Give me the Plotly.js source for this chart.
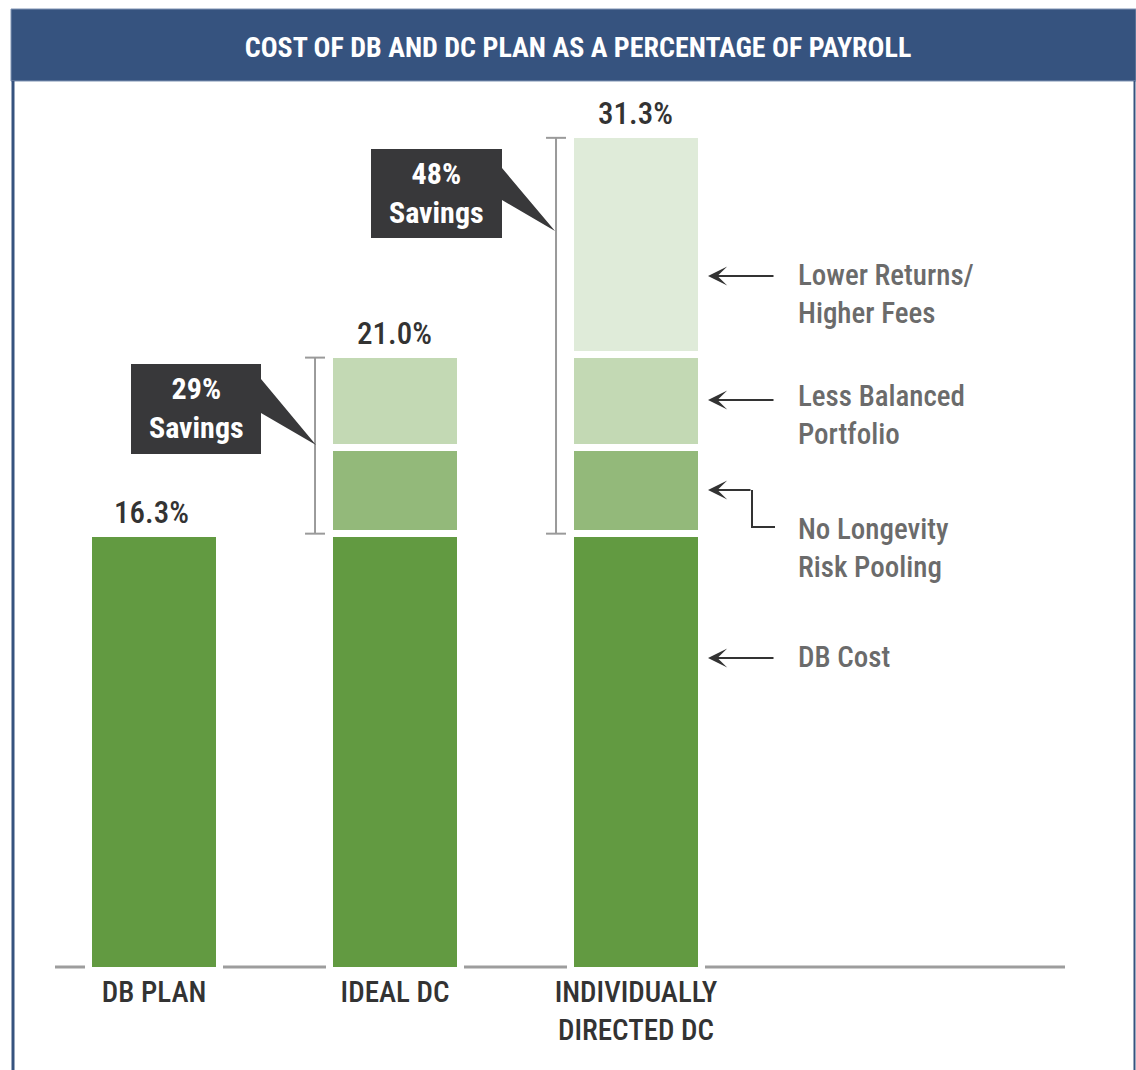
<!DOCTYPE html>
<html>
<head>
<meta charset="utf-8">
<script src="https://cdn.plot.ly/plotly-3.0.1.min.js"></script>
<style>
html,body{margin:0;padding:0;background:#fff;}
#chart{width:1136px;height:1070px;}
svg text{font-stretch:condensed;}
</style>
</head>
<body>
<div id="chart"></div>
<script>
// ---- data ----
const categories = ['DB PLAN', 'IDEAL DC', 'INDIVIDUALLY<br>DIRECTED DC'];
const dbCost = [16.3, 16.3, 16.3];
const longevityPooling = [null, 3.2, 3.2];
const balancedPortfolio = [null, 3.5, 3.5];
const lowerReturnsFees = [null, null, 8.2];
const totalLabels = ['16.3%', '21.0%', '31.3%'];
const savingsLabels = [null, '29%', '48%'];
const segmentNames = ['DB Cost', 'No Longevity<br>Risk Pooling', 'Less Balanced<br>Portfolio', 'Lower Returns/<br>Higher Fees'];
const segmentColors = ['#629a41', '#93b97a', '#c3d9b4', '#dfebd9'];
const titleText = 'COST OF DB AND DC PLAN AS A PERCENTAGE OF PAYROLL';

// ---- geometry helpers (plot area in page pixels) ----
const W = 1136, H = 1070;
const L = 55, R = 1065, T = 100, B = 972;
const PXU = 26.8;             // pixels per percentage point
const ZERO = 970.5;           // pixel row of value 0
const STROKE = 7;             // white separator width
const xp = px => (px - L) / (R - L);
const yp = py => (B - py) / (B - T);

const FONT = 'Roboto, "DejaVu Sans Condensed", sans-serif';
const series = [dbCost, longevityPooling, balancedPortfolio, lowerReturnsFees];

const traces = series.map((vals, k) => ({
  type: 'bar',
  x: categories,
  y: vals,
  name: segmentNames[k],
  width: 0.544,
  marker: {color: segmentColors[k], line: {color: '#ffffff', width: STROKE}},
  hoverinfo: 'skip'
}));

const totals = categories.map((c, i) => series.reduce((s, arr) => s + (arr[i] || 0), 0));

const shapes = [];
const annotations = [];

// header band & frame
shapes.push({type: 'rect', xref: 'paper', yref: 'paper', x0: xp(11), x1: xp(1136), y0: yp(81), y1: yp(9),
  fillcolor: '#36537f', line: {color: '#7f93b3', width: 1}, layer: 'above'});
shapes.push({type: 'line', xref: 'paper', yref: 'paper', x0: xp(13), x1: xp(13), y0: yp(1072), y1: yp(81),
  line: {color: '#36537f', width: 3}});
shapes.push({type: 'line', xref: 'paper', yref: 'paper', x0: xp(1134.5), x1: xp(1134.5), y0: yp(1072), y1: yp(81),
  line: {color: '#36537f', width: 2}});

// baseline (drawn beneath the bars; their white outline cuts it)
shapes.push({type: 'line', xref: 'paper', yref: 'paper', x0: 0, x1: 1, y0: yp(967), y1: yp(967),
  line: {color: '#9d9d9d', width: 3}, layer: 'below'});

// total labels
categories.forEach((c, i) => {
  annotations.push({x: c, y: totals[i], xref: 'x', yref: 'y', text: totalLabels[i], showarrow: false,
    yanchor: 'middle', yshift: 21, xshift: i === 0 ? -3 : -1,
    font: {family: FONT, size: 31, color: '#333333', weight: 500}});
});

// savings brackets & callouts
const calloutBoxes = {1: {x0: 131, x1: 261, y0: 364, y1: 454, p1: 379, p2: 413, tx: 316, ty: 445},
                      2: {x0: 371, x1: 502, y0: 149, y1: 238, p1: 168, p2: 200, tx: 555, ty: 231}};
const off = (STROKE / 2) / PXU;
categories.forEach((c, i) => {
  if (!savingsLabels[i]) return;
  const bx = i - 0.332, tk = 0.0415;
  const line = {color: '#9a9a9a', width: 2};
  const top = totals[i] - off;
  shapes.push({type: 'line', xref: 'x', yref: 'y', x0: bx, x1: bx, y0: dbCost[i], y1: top, line, layer: 'above'});
  shapes.push({type: 'line', xref: 'x', yref: 'y', x0: bx - tk, x1: bx + tk, y0: dbCost[i], y1: dbCost[i], line, layer: 'above'});
  shapes.push({type: 'line', xref: 'x', yref: 'y', x0: bx - tk, x1: bx + tk, y0: top, y1: top, line, layer: 'above'});
  const b = calloutBoxes[i];
  const path = `M ${xp(b.x0)} ${yp(b.y0)} L ${xp(b.x1)} ${yp(b.y0)} L ${xp(b.x1)} ${yp(b.p1)} L ${xp(b.tx)} ${yp(b.ty)} L ${xp(b.x1)} ${yp(b.p2)} L ${xp(b.x1)} ${yp(b.y1)} L ${xp(b.x0)} ${yp(b.y1)} Z`;
  shapes.push({type: 'path', xref: 'paper', yref: 'paper', path, fillcolor: '#38383a', line: {width: 0}, layer: 'above'});
  annotations.push({xref: 'paper', yref: 'paper', x: xp((b.x0 + b.x1) / 2), y: yp((b.y0 + b.y1) / 2 - 1),
    text: savingsLabels[i] + '<br>Savings', showarrow: false, xanchor: 'center', yanchor: 'middle',
    font: {family: FONT, size: 30, color: '#ffffff', weight: 'bold'}});
});

// right-hand segment legend with arrows
const legendRows = [
  {name: segmentNames[3], arrowY: 276, textY: 293.5},
  {name: segmentNames[2], arrowY: 400, textY: 415.5},
  {name: segmentNames[1], arrowY: 490, textY: 547.5, elbow: true},
  {name: segmentNames[0], arrowY: 658, textY: 657}
];
legendRows.forEach(r => {
  annotations.push({xref: 'paper', yref: 'paper', x: xp(796), y: yp(r.textY), text: r.name, showarrow: false,
    xanchor: 'left', yanchor: 'middle', align: 'left',
    font: {family: FONT, size: 29, color: '#6b6b6b', weight: 500}});
  const tailX = r.elbow ? 752 : 775;
  annotations.push({xref: 'paper', yref: 'paper', x: xp(708), y: yp(r.arrowY), ax: tailX - 708, ay: 0,
    axref: 'pixel', ayref: 'pixel', text: '', showarrow: true, arrowhead: 3, arrowsize: 1.6, arrowwidth: 2,
    arrowcolor: '#333333', standoff: 0});
  if (r.elbow) {
    shapes.push({type: 'path', xref: 'paper', yref: 'paper',
      path: `M ${xp(752)} ${yp(r.arrowY)} L ${xp(752)} ${yp(527)} L ${xp(775)} ${yp(527)}`,
      line: {color: '#333333', width: 2}});
  }
});

const layout = {
  width: W, height: H,
  margin: {l: L, r: W - R, t: T, b: H - B, pad: 0},
  paper_bgcolor: '#ffffff', plot_bgcolor: 'rgba(0,0,0,0)',
  barmode: 'stack',
  showlegend: false,
  title: {text: titleText, xref: 'container', yref: 'container', x: 578 / W, y: 1 - 47 / H,
    xanchor: 'center', yanchor: 'middle', font: {family: FONT, size: 28, color: '#ffffff', weight: 'bold'}},
  xaxis: {type: 'category', range: [-0.411, 3.78], showgrid: false, zeroline: false, showline: false,
    ticks: '', tickfont: {family: FONT, size: 29, color: '#333333', weight: 500}, fixedrange: true},
  yaxis: {range: [-(B - ZERO) / PXU, (ZERO - T) / PXU], showgrid: false, zeroline: false, showline: false,
    showticklabels: false, ticks: '', fixedrange: true},
  shapes, annotations
};

Plotly.newPlot('chart', traces, layout, {displayModeBar: false, staticPlot: true});
</script>
</body>
</html>
